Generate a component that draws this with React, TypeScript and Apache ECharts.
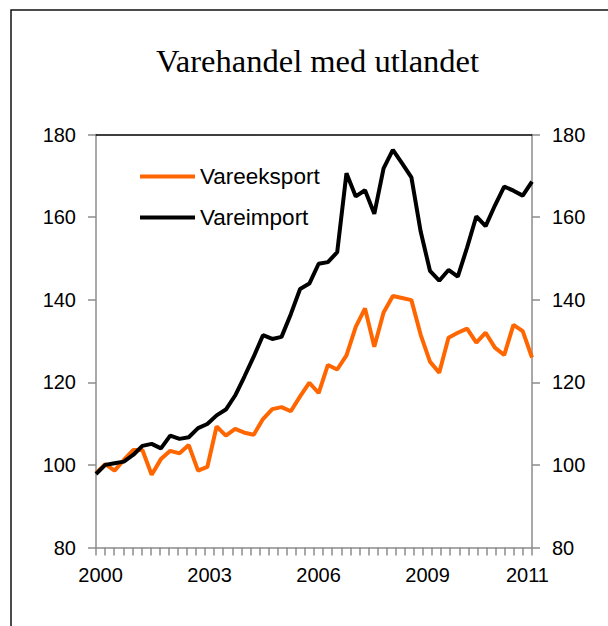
import React, { useEffect, useRef } from "react";
import * as echarts from "echarts";

const titleText = "Varehandel med utlandet";
const years = [2000, 2001, 2002, 2003, 2004, 2005, 2006, 2007, 2008, 2009, 2010, 2011];
const quarterNames = ["K1", "K2", "K3", "K4"];
const categories = years.flatMap((y) => quarterNames.map((q) => `${y}${q}`));
const labelIndices = [0, 12, 24, 36, 47];

const seriesNames = ["Vareeksport", "Vareimport"];
const seriesColors = ["#FF6600", "#000000"];

const exportValues = [
  98.0, 100.2, 98.6, 101.2, 103.6, 103.6, 97.6, 101.4, 103.4, 102.8, 104.8, 98.6,
  99.5, 109.3, 107.1, 108.7, 107.8, 107.3, 111.1, 113.5, 114.0, 113.0, 116.6, 119.9,
  117.4, 124.2, 123.1, 126.5, 133.4, 137.9, 128.6, 136.9, 140.9, 140.4, 139.9, 131.5,
  125.0, 122.3, 130.8, 132.0, 133.0, 129.6, 132.0, 128.4, 126.6, 133.9, 132.4, 126.0,
];

const importValues = [
  97.8, 100.0, 100.4, 100.8, 102.4, 104.6, 105.1, 104.0, 107.1, 106.3, 106.7, 108.9,
  109.9, 112.0, 113.4, 116.8, 121.4, 126.2, 131.4, 130.5, 131.0, 136.5, 142.6, 143.9,
  148.7, 149.1, 151.5, 170.6, 165.0, 166.5, 160.8, 171.8, 176.3, 173.0, 169.6, 156.5,
  147.0, 144.6, 147.2, 145.6, 152.6, 160.2, 157.8, 162.8, 167.4, 166.4, 165.2, 168.6,
];

const yMin = 80;
const yMax = 180;
const yStep = 20;

const SANS = "'Liberation Sans', Arial, sans-serif";
const SERIF = "'Liberation Serif', 'Times New Roman', serif";
const AXIS_GRAY = "#8c8c8c";

export default function App() {
  const ref = useRef<HTMLDivElement>(null);

  useEffect(() => {
    if (!ref.current) return;
    const chart = echarts.init(ref.current, undefined, { renderer: "svg" });

    const yAxisCommon = {
      type: "value" as const,
      min: yMin,
      max: yMax,
      interval: yStep,
      splitLine: { show: false },
      axisLine: { show: true, lineStyle: { color: AXIS_GRAY, width: 1.5 } },
      axisTick: { show: true, inside: false, length: 8, lineStyle: { color: AXIS_GRAY, width: 1.5 } },
      axisLabel: { fontSize: 20, fontFamily: SANS, color: "#000", margin: 20 },
    };

    chart.setOption({
      animation: false,
      backgroundColor: "#ffffff",
      title: {
        text: titleText,
        left: 156,
        top: 44,
        padding: 0,
        textStyle: { fontFamily: SERIF, fontSize: 32.5, fontWeight: "normal", color: "#000" },
      },
      graphic: [
        {
          type: "rect",
          shape: { x: 11, y: 10, width: 700, height: 700 },
          style: { fill: "none", stroke: "#111", lineWidth: 1.5 },
          z: -10,
          silent: true,
        },
      ],
      legend: {
        data: seriesNames,
        orient: "vertical",
        left: 140,
        top: 165,
        padding: 0,
        itemWidth: 55,
        itemHeight: 4,
        itemGap: 18,
        icon: "rect",
        textStyle: { fontFamily: SANS, fontSize: 22.5, lineHeight: 22, color: "#000" },
      },
      grid: { left: 96, right: 76, top: 134.5, bottom: 78.5, containLabel: false },
      xAxis: [
        {
          type: "category",
          data: categories,
          boundaryGap: true,
          position: "bottom",
          axisLine: { show: true, onZero: false, lineStyle: { color: AXIS_GRAY, width: 1.5 } },
          axisTick: { show: true, interval: 0, length: 8, lineStyle: { color: AXIS_GRAY, width: 1.5 } },
          axisLabel: {
            interval: (i: number) => labelIndices.includes(i),
            formatter: (v: string) => v.slice(0, 4),
            fontSize: 20,
            fontFamily: SANS,
            color: "#000",
            margin: 17,
          },
          splitLine: { show: false },
        },
        {
          type: "value",
          min: 0,
          max: categories.length - 1,
          position: "top",
          axisLine: { show: true, onZero: false, lineStyle: { color: "#000", width: 1.5 } },
          axisTick: { show: false },
          axisLabel: { show: false },
          splitLine: { show: false },
        },
      ],
      yAxis: [
        { ...yAxisCommon, position: "left" },
        { ...yAxisCommon, position: "right" },
      ],
      series: [
        {
          name: seriesNames[0],
          type: "line",
          xAxisIndex: 1,
          yAxisIndex: 0,
          color: seriesColors[0],
          showSymbol: false,
          lineStyle: { width: 4, color: seriesColors[0] },
          data: exportValues.map((v, i) => [i, v]),
        },
        {
          name: seriesNames[1],
          type: "line",
          xAxisIndex: 1,
          yAxisIndex: 0,
          color: seriesColors[1],
          showSymbol: false,
          lineStyle: { width: 4, color: seriesColors[1] },
          data: importValues.map((v, i) => [i, v]),
        },
      ],
    });

    return () => chart.dispose();
  }, []);

  return (
    <div
      ref={ref}
      style={{ position: "fixed", left: 0, top: 0, width: 608, height: 626, background: "#fff" }}
    />
  );
}
